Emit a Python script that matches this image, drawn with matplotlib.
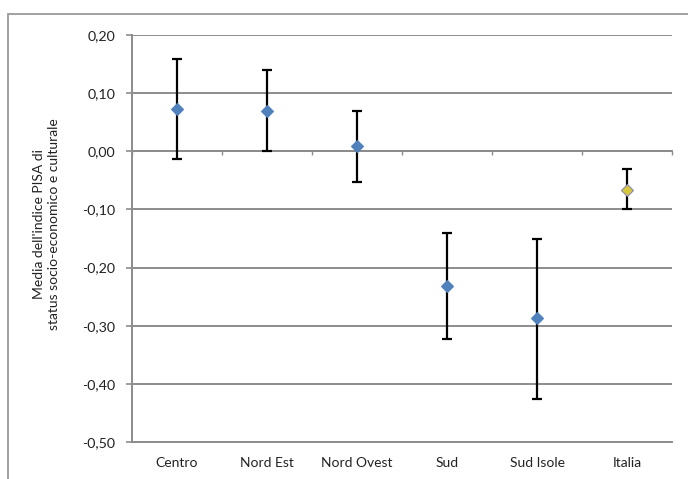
import matplotlib.pyplot as plt
from matplotlib.patches import Rectangle
from matplotlib.ticker import FuncFormatter

# Dati
regioni = ["Centro", "Nord Est", "Nord Ovest", "Sud", "Sud Isole", "Italia"]
media = [0.072, 0.069, 0.009, -0.231, -0.287, -0.066]
limite_sup = [0.158, 0.139, 0.069, -0.140, -0.151, -0.030]
limite_inf = [-0.014, 0.000, -0.053, -0.322, -0.426, -0.100]
y_ticks = [0.20, 0.10, 0.00, -0.10, -0.20, -0.30, -0.40, -0.50]

plt.rcParams["font.family"] = ["Lato", "DejaVu Sans"]
grigio = "#8c8c8c"

fig = plt.figure(figsize=(6.88, 4.79), dpi=100)
ax = fig.add_axes([132 / 688, 37 / 479, 540 / 688, 407 / 479])

# cornice esterna del grafico
fig.patches.append(Rectangle((8 / 688, -0.1), 1.2, 1.1 - 14 / 479,
                             transform=fig.transFigure, fill=False,
                             edgecolor="#9a9a9a", linewidth=1.3))

x = list(range(len(regioni)))
err_low = [m - l for m, l in zip(media, limite_inf)]
err_up = [u - m for m, u in zip(media, limite_sup)]

ax.errorbar(x, media, yerr=[err_low, err_up], fmt="none", ecolor="black",
            elinewidth=1.6, capsize=3.5, capthick=1.6, zorder=3)
colori = ["#4f81bd"] * 5 + ["#d6c83a"]
bordi = ["#4f81bd"] * 5 + ["#8a86b8"]
for xi, m, c, b in zip(x, media, colori, bordi):
    ax.plot(xi, m, marker="D", markersize=6.5, color=c, markeredgecolor=b,
            markeredgewidth=0.8, linestyle="none", zorder=4)

ax.set_xlim(-0.5, len(regioni) - 0.5)
ax.set_ylim(-0.5, 0.2)
ax.set_yticks(y_ticks)
ax.yaxis.set_major_formatter(FuncFormatter(lambda v, p: f"{v:.2f}".replace(".", ",")))
ax.yaxis.grid(True, color=grigio, linewidth=1.4)
ax.set_axisbelow(True)

ax.set_xticks(x)
ax.set_xticklabels(regioni)
ax.tick_params(axis="x", length=0, pad=11, labelsize=10, labelcolor="#222222")
ax.tick_params(axis="y", length=4, width=1.2, color=grigio, pad=8,
               labelsize=10.3, labelcolor="#222222")

for lato in ["top", "right"]:
    ax.spines[lato].set_visible(False)
for lato in ["left", "bottom"]:
    ax.spines[lato].set_color(grigio)
    ax.spines[lato].set_linewidth(1.4)

# asse delle categorie che incrocia lo zero
asse_zero = ax.secondary_xaxis(0, transform=ax.transData)
asse_zero.set_xticks([i - 0.5 for i in range(len(regioni) + 1)])
asse_zero.tick_params(length=3, width=1.0, color=grigio, labelbottom=False)
asse_zero.spines["bottom"].set_color(grigio)
asse_zero.spines["bottom"].set_linewidth(1.4)

ax.set_ylabel("Media dell'indice PISA di\nstatus socio-economico e culturale",
              fontsize=10, color="#222222", linespacing=1.3)
ax.yaxis.set_label_coords(-0.133, 0.536)

fig.savefig("out.png", dpi=100)
